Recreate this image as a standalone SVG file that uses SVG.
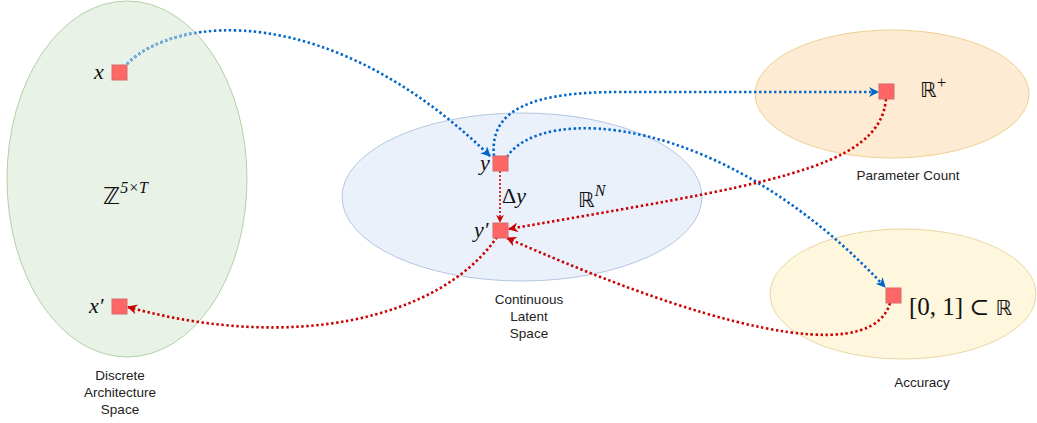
<svg xmlns="http://www.w3.org/2000/svg" width="1037" height="423" viewBox="0 0 1037 423">
<style>
.cap{font-family:"Liberation Sans",Arial,sans-serif;font-size:13.5px;fill:#222;text-anchor:middle}
.m{font-family:"Liberation Serif","DejaVu Serif",serif;fill:#111}
.mi{font-family:"Liberation Serif","DejaVu Serif",serif;font-style:italic;fill:#111}
.ds{font-family:"DejaVu Sans",sans-serif;fill:#111}
.sq{fill:#ff6666;stroke:#d46a6a;stroke-width:1}
.b{fill:none;stroke:#0066cc;stroke-width:2.6;stroke-dasharray:2.4 2.6}
.r{fill:none;stroke:#cc0000;stroke-width:2.6;stroke-dasharray:2.4 2.6}
.r2{fill:none;stroke:#cc0000;stroke-width:1.6;stroke-dasharray:2 2}
</style>
<defs>
<marker id="ab" viewBox="0 0 10 10" refX="9" refY="5" markerWidth="10" markerHeight="10" markerUnits="userSpaceOnUse" orient="auto">
<path d="M0,0 L10,5 L0,10 L3,5 z" fill="#0066cc"/>
</marker>
<marker id="ar" viewBox="0 0 10 10" refX="9" refY="5" markerWidth="10" markerHeight="10" markerUnits="userSpaceOnUse" orient="auto">
<path d="M0,0 L10,5 L0,10 L3,5 z" fill="#cc0000"/>
</marker>
<marker id="ar2" viewBox="0 0 10 10" refX="9" refY="5" markerWidth="8" markerHeight="8" markerUnits="userSpaceOnUse" orient="auto">
<path d="M0,0 L10,5 L0,10 L3,5 z" fill="#cc0000"/>
</marker>
<clipPath id="cg"><ellipse cx="127" cy="179" rx="120" ry="178"/></clipPath>
</defs>

<g id="discrete-space">
<ellipse cx="127" cy="179" rx="120" ry="178" fill="#e8f2e6" stroke="#b3d1a8" stroke-width="1"/>
<text class="m" x="103" y="204" font-size="25"><tspan class="ds" font-size="23">ℤ</tspan><tspan class="mi" font-size="16" dy="-11">5×T</tspan></text>
<text class="cap" x="120" y="380">Discrete</text>
<text class="cap" x="120" y="397">Architecture</text>
<text class="cap" x="120" y="414">Space</text>
</g>

<g id="latent-space">
<ellipse cx="522" cy="197" rx="180" ry="84" fill="#eaf1fb" stroke="#b4c6e0" stroke-width="1"/>
<text x="578" y="207"><tspan class="ds" font-size="21">ℝ</tspan><tspan class="mi" font-size="16" dy="-11">N</tspan></text>
<text class="cap" x="529" y="304">Continuous</text>
<text class="cap" x="529" y="321">Latent</text>
<text class="cap" x="529" y="338">Space</text>
</g>

<g id="param-space">
<ellipse cx="892" cy="94" rx="137" ry="64" fill="#fdebd3" stroke="#ecd18f" stroke-width="1"/>
<text x="920" y="97"><tspan class="ds" font-size="21">ℝ</tspan><tspan class="m" font-size="17" dy="-9">+</tspan></text>
<text class="cap" x="908" y="180">Parameter Count</text>
</g>

<g id="accuracy-space">
<ellipse cx="903" cy="294" rx="133" ry="65" fill="#fef6dd" stroke="#e8d7a4" stroke-width="1"/>
<text x="909" y="315"><tspan class="m" font-size="25">[0, 1] </tspan><tspan class="m" font-size="24">⊂</tspan><tspan class="ds" font-size="21" dx="6">ℝ</tspan></text>
<text class="cap" x="922" y="387">Accuracy</text>
</g>

<g id="connectors">
<path class="b" d="M127,64 C175,15 330,0 490,156" marker-end="url(#ab)"/>
<path d="M127,64 C175,15 330,0 490,156" fill="none" stroke="#7aaedb" stroke-width="2.7" stroke-dasharray="2.4 2.6" clip-path="url(#cg)"/>
<path class="b" d="M494,156 C489,108 535,92 620,92 L878,92" marker-end="url(#ab)"/>
<path class="b" d="M507,157 C540,105 720,110 885,287" marker-end="url(#ab)"/>
<path class="r2" d="M500,171 L500,222" marker-end="url(#ar2)"/>
<path class="r" d="M886,99 C880,170 760,185 509,229" marker-end="url(#ar)"/>
<path class="r" d="M497,237 C440,320 290,352 128,307" marker-end="url(#ar)"/>
<path class="r" d="M890,303 C875,355 760,350 507,238" marker-end="url(#ar)"/>
</g>

<g id="node-x">
<rect class="sq" x="112" y="65" width="15" height="15"/>
<text class="mi" x="94" y="79" font-size="22">x</text>
</g>
<g id="node-x-prime">
<rect class="sq" x="112" y="299" width="15" height="15"/>
<text class="mi" x="89" y="313" font-size="22">x′</text>
</g>
<g id="node-y">
<rect class="sq" x="493" y="156" width="15" height="15"/>
<text class="mi" x="480" y="170" font-size="22">y</text>
<text x="502" y="203" font-size="22"><tspan class="m">Δ</tspan><tspan class="mi">y</tspan></text>
</g>
<g id="node-y-prime">
<rect class="sq" x="493" y="223" width="15" height="15"/>
<text class="mi" x="474" y="237" font-size="22">y′</text>
</g>
<g id="node-param">
<rect class="sq" x="879" y="84" width="15" height="15"/>
</g>
<g id="node-acc">
<rect class="sq" x="886" y="288" width="15" height="15"/>
</g>
</svg>
